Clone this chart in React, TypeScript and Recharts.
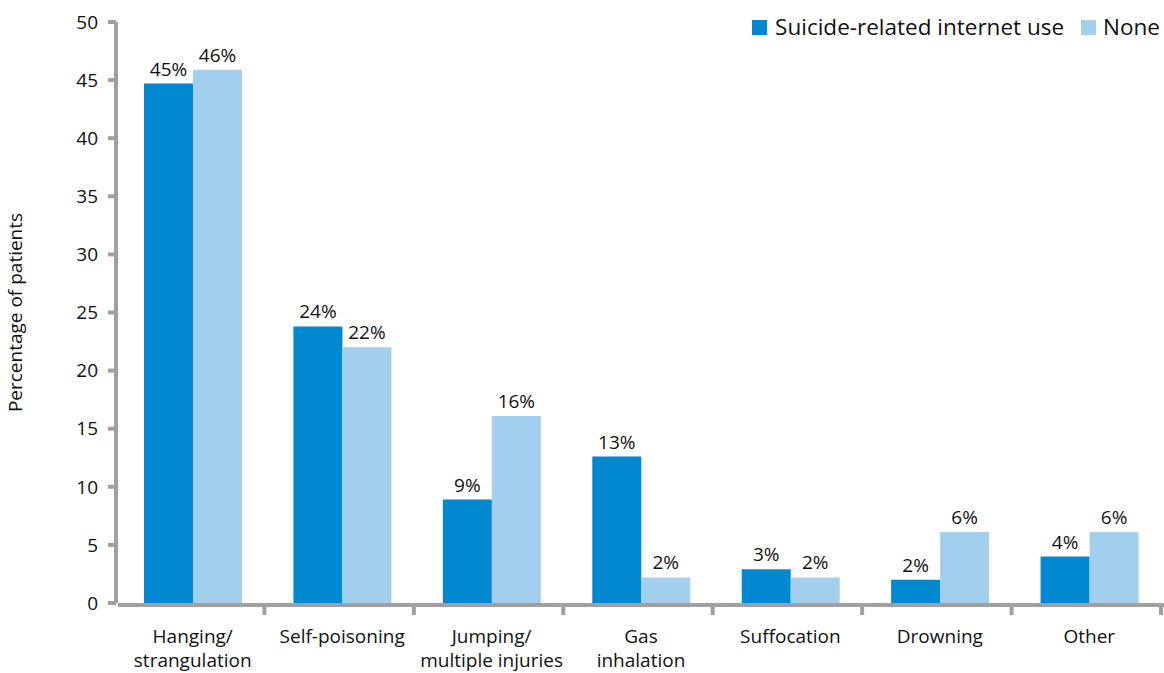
import { BarChart, Bar, XAxis, YAxis, LabelList } from 'recharts';

const categories = [
  'Hanging/\nstrangulation',
  'Self-poisoning',
  'Jumping/\nmultiple injuries',
  'Gas\ninhalation',
  'Suffocation',
  'Drowning',
  'Other',
];
const internetUse = [44.7, 23.8, 8.9, 12.6, 2.9, 2.0, 4.0];
const none = [45.9, 22.0, 16.1, 2.2, 2.2, 6.1, 6.1];
const yTicks = [0, 5, 10, 15, 20, 25, 30, 35, 40, 45, 50];

const DARK = '#0088d1';
const LIGHT = '#a3cfef';
const AXIS = '#a0a0a0';
const FONT = '"Open Sans", Lato, sans-serif';
const FS = 19;

const data = categories.map((name, i) => ({ name, internet: internetUse[i], none: none[i] }));

const CHART_W = 1164;
const CHART_H = 673;
const Y_AXIS_W = 118;
const step = (CHART_W - Y_AXIS_W) / categories.length;

function CategoryTick({ x, y, payload }: any) {
  const lines = String(payload.value).split('\n');
  const bx = x + step / 2 - 3;
  return (
    <g>
      <line x1={bx} x2={bx} y1={y} y2={y + 12} stroke={AXIS} strokeWidth={4} />
      <text x={x} y={y + 40} textAnchor="middle" fill="#111" fontSize={FS} fontFamily={FONT}>
        {lines.map((l, i) => (
          <tspan key={i} x={x} dy={i === 0 ? 0 : 24}>
            {l}
          </tspan>
        ))}
      </text>
    </g>
  );
}

function YLabel({ viewBox }: any) {
  const cy = viewBox.y + viewBox.height / 2;
  return (
    <text
      x={22}
      y={cy}
      transform={`rotate(-90, 22, ${cy})`}
      textAnchor="middle"
      fill="#111"
      fontSize={FS}
      fontFamily={FONT}
    >
      Percentage of patients
    </text>
  );
}

const pct = (v: any) => `${Math.round(Number(v))}%`;

export default function App() {
  return (
    <div style={{ position: 'absolute', left: 0, top: 0, width: CHART_W, height: CHART_H, background: '#fff', fontFamily: FONT }}>
      <BarChart
        width={CHART_W}
        height={CHART_H}
        data={data}
        margin={{ top: 22, right: 0, bottom: 0, left: 0 }}
        barCategoryGap={26}
        barGap={0}
      >
        <XAxis
          dataKey="name"
          interval={0}
          height={CHART_H - 603}
          tickLine={false}
          tickSize={0}
          tickMargin={0}
          axisLine={{ stroke: AXIS, strokeWidth: 4, transform: 'translate(0,2)' }}
          tick={<CategoryTick />}
        />
        <YAxis
          width={Y_AXIS_W}
          domain={[0, 50]}
          ticks={yTicks}
          interval={0}
          tickSize={8}
          tickMargin={12}
          axisLine={{ stroke: AXIS, strokeWidth: 4, transform: 'translate(-2,0)' }}
          tickLine={{ stroke: AXIS, strokeWidth: 4, transform: 'translate(-2,0)' }}
          tick={{ fill: '#111', fontSize: FS, fontFamily: FONT }}
          label={<YLabel />}
        />
        <Bar dataKey="internet" fill={DARK} isAnimationActive={false}>
          <LabelList dataKey="internet" position="top" offset={8} formatter={pct} fill="#111" fontSize={FS} fontFamily={FONT} />
        </Bar>
        <Bar dataKey="none" fill={LIGHT} isAnimationActive={false}>
          <LabelList dataKey="none" position="top" offset={8} formatter={pct} fill="#111" fontSize={FS} fontFamily={FONT} />
        </Bar>
      </BarChart>
      <div
        style={{
          position: 'absolute',
          top: 15,
          right: 4,
          display: 'flex',
          alignItems: 'center',
          fontSize: 22.5,
          color: '#111',
          lineHeight: '24px',
        }}
      >
        <span style={{ width: 15, height: 15, background: DARK, display: 'inline-block', marginRight: 8 }} />
        <span style={{ marginRight: 17 }}>Suicide-related internet use</span>
        <span style={{ width: 15, height: 15, background: LIGHT, display: 'inline-block', marginRight: 7 }} />
        <span>None</span>
      </div>
    </div>
  );
}
